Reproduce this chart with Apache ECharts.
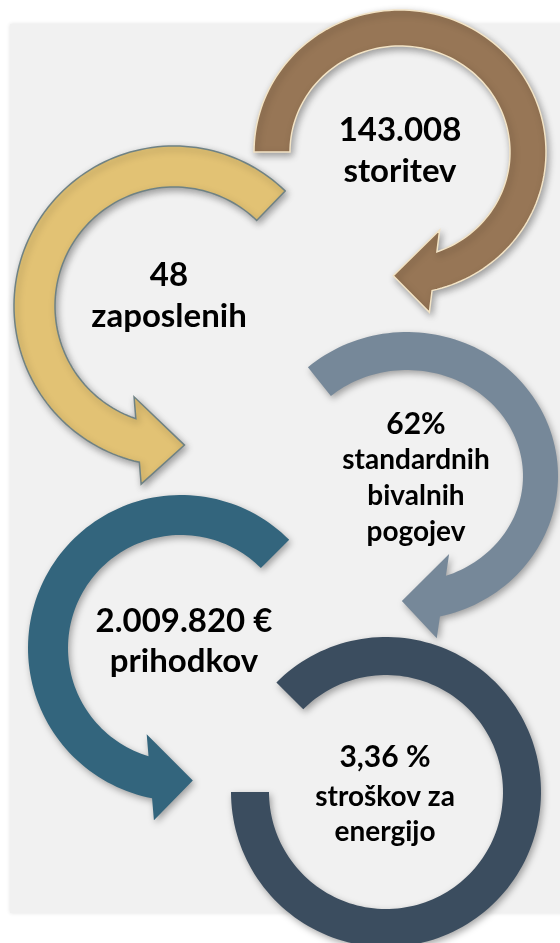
<!DOCTYPE html>
<html>
<head>
<meta charset="utf-8">
<script src="https://cdn.jsdelivr.net/npm/echarts@6/dist/echarts.min.js"></script>
<style>
  html, body { margin: 0; padding: 0; background: #ffffff; }
  #main { width: 560px; height: 943px; }
</style>
</head>
<body>
<div id="main"></div>
<script>
// key figures and their captions, one entry per arrow
const values = ['143.008', '48', '62%', '2.009.820 €', '3,36 %'];
const captions = [
  ['storitev'],
  ['zaposlenih'],
  ['standardnih', 'bivalnih', 'pogojev'],
  ['prihodkov'],
  ['stroškov za', 'energijo']
];
const colors = ['#977656', '#e2c274', '#768899', '#33657d', '#3b4d5f'];
const outlines = ['#f3e4c6', '#6f8284', null, null, null];

// layout of each ring (pixels / degrees, screen angles, y down)
const rings = [
  { cx: 400, cy: 152, rxo: 146, ryo: 142, rxi: 110, ryi: 106, a0: 180, outEnd: 437.3, inEnd: 430.4, tip: 453,
    tx: 400, ty: [130.5, 171.5], fs: [33, 33] },
  { cx: 174, cy: 306, rxo: 160, ryo: 160, rxi: 119, ryi: 119, a0: -46, outEnd: -257.5, inEnd: -251.3, tip: -274.3,
    tx: 169, ty: [275.5, 316.5], fs: [33, 33] },
  { cx: 407, cy: 476, rxo: 151, ryo: 144, rxi: 116, ryi: 106, a0: -131, outEnd: 77.4, inEnd: 70.4, tip: 92.2,
    tx: 416, ty: [424.5, 460, 496, 532], fs: [30, 28] },
  { cx: 181, cy: 648, rxo: 153, ryo: 153, rxi: 113, ryi: 113, a0: -45, outEnd: -259.1, inEnd: -253.3, tip: -275.1,
    tx: 184, ty: [621.5, 661.5], fs: [33, 33] },
  { cx: 386, cy: 792, rxo: 155, ryo: 155, rxi: 117, ryi: 117, a0: -135, outEnd: 180, inEnd: 180, tip: null,
    tx: 385, ty: [757.5, 797, 832], fs: [30, 28] }
];
const BARB = 22;

function ell(r, a, rx, ry) {
  const t = a * Math.PI / 180;
  return [r.cx + rx * Math.cos(t), r.cy + ry * Math.sin(t)];
}
function arcPts(r, a0, a1, rx, ry) {
  const n = Math.max(2, Math.ceil(Math.abs(a1 - a0) / 2));
  const pts = [];
  for (let k = 0; k <= n; k++) pts.push(ell(r, a0 + (a1 - a0) * k / n, rx, ry));
  return pts;
}

function arrowPoints(r) {
  let pts = arcPts(r, r.a0, r.outEnd, r.rxo, r.ryo);
  if (r.tip !== null) {
    const oN = ell(r, r.outEnd, r.rxo, r.ryo);
    const iN = ell(r, r.inEnd, r.rxi, r.ryi);
    const dx = oN[0] - iN[0], dy = oN[1] - iN[1];
    const len = Math.sqrt(dx * dx + dy * dy);
    const ux = dx / len, uy = dy / len;
    pts.push([oN[0] + ux * BARB, oN[1] + uy * BARB]);
    pts.push(ell(r, r.tip, (r.rxo + r.rxi) / 2, (r.ryo + r.ryi) / 2));
    pts.push([iN[0] - ux * BARB, iN[1] - uy * BARB]);
  }
  return pts.concat(arcPts(r, r.inEnd, r.a0, r.rxi, r.ryi));
}

function renderItem(params, api) {
  const i = api.value(0);
  const r = rings[i];
  const children = [{
    type: 'polygon',
    shape: { points: arrowPoints(r) },
    style: {
      fill: colors[i],
      stroke: outlines[i] || 'none',
      lineWidth: outlines[i] ? 1.5 : 0,
      shadowBlur: 7,
      shadowColor: 'rgba(0,0,0,0.35)',
      shadowOffsetX: 2,
      shadowOffsetY: 3
    }
  }];
  const lines = [values[i]].concat(captions[i]);
  lines.forEach(function (t, k) {
    children.push({
      type: 'text',
      style: {
        text: t,
        x: r.tx,
        y: r.ty[k],
        fill: '#000000',
        font: 'bold ' + (k === 0 ? r.fs[0] : r.fs[1]) + 'px Lato',
        align: 'center',
        verticalAlign: 'middle'
      }
    });
  });
  return { type: 'group', children: children };
}

const chart = echarts.init(document.getElementById('main'));
chart.setOption({
  animation: false,
  backgroundColor: '#ffffff',
  graphic: [{
    type: 'rect',
    z: -10,
    shape: { x: 10, y: 24, width: 560, height: 889 },
    style: { fill: '#f1f1f1', shadowBlur: 4, shadowColor: 'rgba(0,0,0,0.12)' }
  }],
  series: [{
    type: 'custom',
    coordinateSystem: 'none',
    z: 5,
    renderItem: renderItem,
    data: values.map(function (v, i) { return [i]; })
  }]
});
</script>
</body>
</html>
